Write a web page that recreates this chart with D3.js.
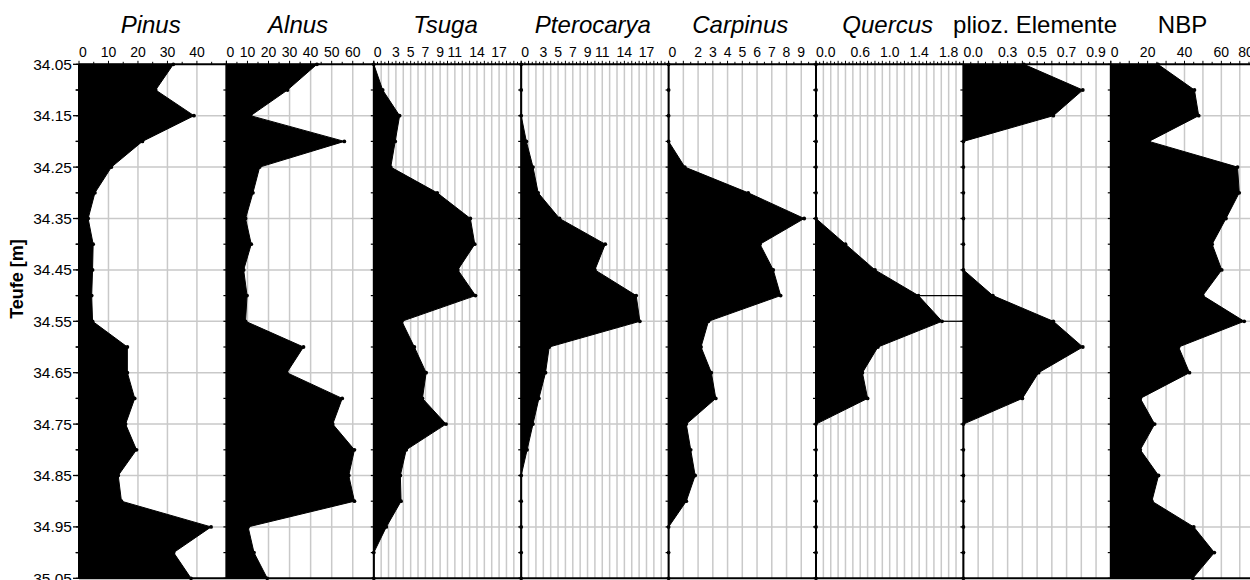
<!DOCTYPE html>
<html>
<head>
<meta charset="utf-8">
<script src="https://cdn.jsdelivr.net/npm/d3@7"></script>
<style>
  html, body { margin: 0; padding: 0; background: #fff; }
  svg { display: block; font-family: "Liberation Sans", Arial, sans-serif; }
</style>
</head>
<body>
<svg id="chart" width="1250" height="580"></svg>
<script>
// ---------- data ----------
const depths = [34.05, 34.10, 34.15, 34.20, 34.25, 34.30, 34.35, 34.40, 34.45, 34.50,
                34.55, 34.60, 34.65, 34.70, 34.75, 34.80, 34.85, 34.90, 34.95, 35.00, 35.05];

const taxa = ["Pinus", "Alnus", "Tsuga", "Pterocarya", "Carpinus", "Quercus", "plioz. Elemente", "NBP"];
const italicTitles = [true, true, true, true, true, true, false, false];

const pinus      = [32, 26, 39, 21.5, 11, 5.4, 3.1, 4.8, 4.6, 4.3, 4.6, 16.4, 16.4, 18.9, 15.8, 19.5, 13.3, 14.4, 44.8, 32.1, 38];
const alnus      = [43, 29, 11.5, 56, 15.8, 12.6, 9.1, 11.8, 8.2, 9.8, 9.1, 36.6, 28.7, 55, 50.5, 60.8, 58.1, 60.8, 10.3, 13.1, 19.4];
const tsuga      = [0, 1.2, 3.5, 2.9, 2.3, 8.6, 13.1, 13.7, 11.4, 13.8, 3.8, 5.5, 7.1, 6.6, 9.8, 4.4, 3.6, 3.7, 1.7, 0, 0];
const pterocarya = [0, 0, 0, 0.7, 1.6, 2.3, 5.2, 11.4, 10, 15.6, 16.1, 3.8, 3.3, 2.4, 1.6, 0.8, 0, 0, 0, 0, 0];
const carpinus   = [0, 0, 0, 0, 1.1, 5.4, 9.2, 6.2, 7.1, 7.6, 2.7, 2.2, 2.9, 3.2, 1.2, 1.5, 1.8, 1.2, 0, 0, 0];
const quercus    = [0, 0, 0, 0, 0, 0, 0, 0.4, 0.8, 1.39, 1.71, 0.84, 0.63, 0.7, 0, 0, 0, 0, 0, 0, 0];
const plioz      = [0.41, 0.81, 0.61, 0, 0, 0, 0, 0, 0, 0.2, 0.61, 0.81, 0.51, 0.40, 0, 0, 0, 0, 0, 0, 0];
const nbp        = [25.6, 45.4, 47.7, 20.7, 68.8, 69.7, 62.5, 55, 60.2, 49.9, 72.4, 36.8, 42.7, 16, 23.8, 16, 25.9, 22.3, 45, 56.2, 44.5];

const seriesValues = [pinus, alnus, tsuga, pterocarya, carpinus, quercus, plioz, nbp];
const scaleMax     = [50, 70, 20, 20, 10, 2, 1, 80];
const gridStep     = [10, 10, 1, 1, 1, 0.1, 0.1, 10];

const pinusTicks      = [0, 10, 20, 30, 40];
const alnusTicks      = [0, 10, 20, 30, 40, 50, 60];
const tsugaTicks      = [0, 3, 5, 7, 9, 11, 14, 17];
const pterocaryaTicks = [0, 3, 5, 7, 9, 11, 14, 17];
const carpinusTicks   = [0, 2, 3, 4, 5, 6, 7, 8, 9];
const quercusTicks    = [0, 0.6, 1.0, 1.4, 1.8];
const pliozTicks      = [0, 0.3, 0.5, 0.7, 0.9];
const nbpTicks        = [0, 20, 40, 60, 80];
const panelTicks  = [pinusTicks, alnusTicks, tsugaTicks, pterocaryaTicks, carpinusTicks, quercusTicks, pliozTicks, nbpTicks];
const tickFormats = ["d", "d", "d", "d", "d", ".1f", ".1f", "d"];

const depthLabels = [34.05, 34.15, 34.25, 34.35, 34.45, 34.55, 34.65, 34.75, 34.85, 34.95, 35.05];
const quercusLeaderDepths = [34.50, 34.55];

const yTitle = "Teufe [m]";

// ---------- layout ----------
const W = 1250, H = 580;
const plotLeft = 79, panelW = 147.4;
const yTop = 64.3, yBot = 578.3;
const gridColor = "#c9c9c9";

const svg = d3.select("#chart");
const y = d3.scaleLinear().domain([depths[0], depths[depths.length - 1]]).range([yTop, yBot]);

const xs = taxa.map((t, i) => d3.scaleLinear()
  .domain([0, scaleMax[i]])
  .range([plotLeft + i * panelW, plotLeft + (i + 1) * panelW]));

// horizontal grid lines
svg.append("g").selectAll("line").data(depthLabels.slice(1, -1)).join("line")
  .attr("x1", plotLeft).attr("x2", W)
  .attr("y1", d => y(d)).attr("y2", d => y(d))
  .attr("stroke", gridColor).attr("stroke-width", 1.5);

// vertical grid lines per panel
taxa.forEach((t, i) => {
  const x = xs[i];
  const n = Math.round(scaleMax[i] / gridStep[i]);
  const vals = d3.range(1, n).map(k => k * gridStep[i]);
  svg.append("g").selectAll("line").data(vals).join("line")
    .attr("x1", d => x(d)).attr("x2", d => x(d))
    .attr("y1", yTop).attr("y2", yBot)
    .attr("stroke", gridColor).attr("stroke-width", 1.5);
});

// areas, dots, axes
taxa.forEach((t, i) => {
  const x = xs[i];
  const vals = seriesValues[i];
  const pts = depths.map((d, k) => ({ d, v: vals[k] }));
  const area = d3.area().x0(x(0)).x1(p => x(p.v)).y(p => y(p.d));
  svg.append("path").datum(pts).attr("d", area)
    .attr("fill", "#000").attr("stroke", "#000").attr("stroke-width", 1);

  // panel axis line
  svg.append("line").attr("x1", x(0)).attr("x2", x(0)).attr("y1", yTop).attr("y2", yBot)
    .attr("stroke", "#000").attr("stroke-width", 2);
  // depth ticks on panel axis
  svg.append("g").selectAll("line").data(depths).join("line")
    .attr("x1", x(0) - 3).attr("x2", x(0))
    .attr("y1", d => y(d)).attr("y2", d => y(d))
    .attr("stroke", "#000").attr("stroke-width", 1.2);

  // sample dots
  svg.append("g").selectAll("circle").data(pts).join("circle")
    .attr("cx", p => x(p.v)).attr("cy", p => y(p.d)).attr("r", 1.9)
    .attr("fill", "#000");

  // top axis ticks
  const half = gridStep[i] / 2;
  const nt = Math.round(scaleMax[i] / half);
  const tvals = d3.range(0, nt + 1).map(k => k * half).filter(v => x(v) <= W);
  svg.append("g").selectAll("line").data(tvals).join("line")
    .attr("x1", d => x(d)).attr("x2", d => x(d))
    .attr("y1", yTop).attr("y2", (d, k) => yTop - (k % 2 === 0 ? 3.5 : 2.5))
    .attr("stroke", "#000").attr("stroke-width", 1);

  // top tick labels
  const fmt = d3.format(tickFormats[i]);
  svg.append("g").selectAll("text").data(panelTicks[i]).join("text")
    .attr("x", d => d === 0 ? x(0) : Math.min(x(d), W - 4))
    .attr("y", 57)
    .attr("text-anchor", d => d === 0 ? "start" : "middle")
    .attr("font-size", 14).attr("fill", "#000")
    .text(d => fmt(d));

  // title
  svg.append("text")
    .attr("x", (x.range()[0] + x.range()[1]) / 2 - 2)
    .attr("y", 33)
    .attr("text-anchor", "middle")
    .attr("font-size", 24)
    .attr("font-style", italicTitles[i] ? "italic" : "normal")
    .attr("fill", "#000")
    .text(t);
});

// Quercus leader lines
const qi = taxa.indexOf("Quercus");
svg.append("g").selectAll("line").data(quercusLeaderDepths).join("line")
  .attr("x1", d => xs[qi](quercus[depths.findIndex(e => Math.abs(e - d) < 1e-6)]))
  .attr("x2", xs[qi].range()[1])
  .attr("y1", d => y(d)).attr("y2", d => y(d))
  .attr("stroke", "#000").attr("stroke-width", 1.2);

// top axis line and bottom line
svg.append("line").attr("x1", plotLeft).attr("x2", W).attr("y1", yTop).attr("y2", yTop)
  .attr("stroke", "#000").attr("stroke-width", 2);
svg.append("line").attr("x1", plotLeft).attr("x2", W).attr("y1", yBot).attr("y2", yBot)
  .attr("stroke", "#000").attr("stroke-width", 2);

// left depth axis
const yAxisG = svg.append("g");
yAxisG.selectAll("line.minor").data(depths).join("line")
  .attr("x1", d => depthLabels.some(l => Math.abs(l - d) < 1e-6) ? plotLeft - 6 : plotLeft - 3.5)
  .attr("x2", plotLeft)
  .attr("y1", d => y(d)).attr("y2", d => y(d))
  .attr("stroke", "#000").attr("stroke-width", 1.3);
yAxisG.selectAll("text").data(depthLabels).join("text")
  .attr("x", plotLeft - 7).attr("y", d => y(d))
  .attr("dy", "0.36em")
  .attr("text-anchor", "end")
  .attr("font-size", 15.5).attr("fill", "#000")
  .text(d => d3.format(".2f")(d));

svg.append("text")
  .attr("transform", "translate(23,279) rotate(-90)")
  .attr("text-anchor", "middle")
  .attr("font-size", 18).attr("font-weight", "bold").attr("fill", "#000")
  .text(yTitle);
</script>
</body>
</html>
